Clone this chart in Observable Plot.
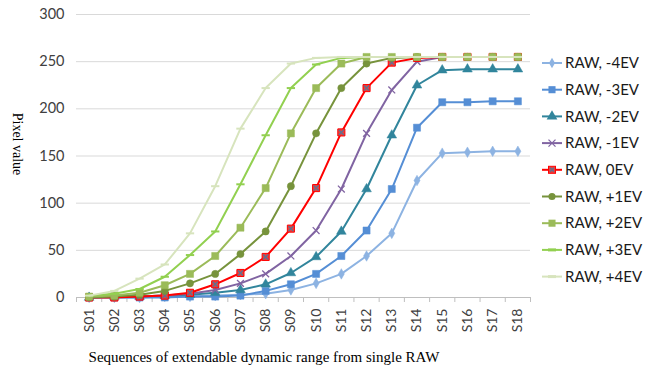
<!DOCTYPE html>
<html>
<head>
<meta charset="utf-8">
<script src="https://cdn.jsdelivr.net/npm/d3@7"></script>
<script src="https://cdn.jsdelivr.net/npm/@observablehq/plot@0.6"></script>
<style>
  html, body { margin: 0; padding: 0; background: #fff; }
  #chart { position: relative; width: 656px; height: 370px; }
</style>
</head>
<body>
<div id="chart"></div>
<script>
// ---- data ----
const categories = ["S01","S02","S03","S04","S05","S06","S07","S08","S09","S10","S11","S12","S13","S14","S15","S16","S17","S18"];
const seriesNames = ["RAW, -4EV","RAW, -3EV","RAW, -2EV","RAW, -1EV","RAW, 0EV","RAW, +1EV","RAW, +2EV","RAW, +3EV","RAW, +4EV"];
const evM4 = [0, 0, 0, 1, 1, 2, 3, 4, 8, 15, 25, 44, 68, 124, 153, 154, 155, 155];
const evM3 = [0, 0, 0, 0, 1, 1, 2, 7, 14, 25, 44, 71, 115, 180, 207, 207, 208, 208];
const evM2 = [0, 1, 1, 2, 3, 5, 8, 14, 26, 43, 70, 115, 172, 225, 241, 242, 242, 242];
const evM1 = [0, 1, 1, 2, 4, 8, 15, 25, 44, 71, 115, 174, 220, 250, 255, 255, 255, 255];
const ev0  = [0, 0, 1, 2, 5, 14, 26, 43, 73, 116, 175, 222, 249, 254, 255, 255, 255, 255];
const evP1 = [0, 1, 3, 7, 15, 25, 46, 70, 118, 174, 222, 248, 254, 255, 255, 255, 255, 255];
const evP2 = [1, 2, 5, 13, 25, 44, 74, 116, 174, 222, 248, 255, 255, 255, 255, 255, 255, 255];
const evP3 = [2, 4, 9, 22, 45, 70, 120, 172, 222, 247, 254, 255, 255, 255, 255, 255, 255, 255];
const evP4 = [2, 7, 20, 35, 68, 118, 179, 222, 248, 254, 255, 255, 255, 255, 255, 255, 255, 255];
const yTicks = [0, 50, 100, 150, 200, 250, 300];

// ---- styles ----
const colors = ["#8DB3E2","#558ED5","#31859C","#8064A2","#FF0000","#77933C","#9BBB59","#92D050","#D7E4BD"];
const dash = { draw(ctx, size) { const w = Math.sqrt(size) * 0.9; ctx.moveTo(-w, 0); ctx.lineTo(w, 0); } };
const symbols = ["diamond","square","triangle","times","square","circle","square",dash,dash];
const allValues = [evM4, evM3, evM2, evM1, ev0, evP1, evP2, evP3, evP4];

const rows = [];
allValues.forEach((vals, s) => vals.forEach((v, i) => rows.push({series: seriesNames[s], idx: i + 1, value: v, s})));
const boundaries = d3.range(categories.length + 1).map(i => i + 0.5);

const marks = [
  Plot.ruleY(yTicks.filter(d => d > 0), {stroke: "#D9D9D9", strokeWidth: 1}),
  Plot.ruleY([0], {stroke: "#BFBFBF", strokeWidth: 1}),
  Plot.axisX({ticks: boundaries, tickSize: 5, tickFormat: () => "", stroke: "#BFBFBF", label: null}),
  Plot.axisX({ticks: d3.range(1, categories.length + 1), tickSize: 0, tickPadding: 11, tickRotate: -90,
    tickFormat: i => categories[i - 1], label: null, fontSize: 14, fill: "#404040"}),
  Plot.axisY({ticks: yTicks, tickSize: 0, tickPadding: 12, label: null, fontSize: 14.5, fill: "#404040"})
];
seriesNames.forEach((name, s) => {
  const data = rows.filter(r => r.s === s);
  marks.push(Plot.line(data, {x: "idx", y: "value", stroke: colors[s], strokeWidth: 2}));
  const sym = symbols[s];
  if (sym === dash) {
    marks.push(Plot.dot(data, {x: "idx", y: "value", symbol: () => dash, r: 2.6, stroke: colors[s], strokeWidth: 2, fill: "none"}));
  } else if (sym === "times") {
    marks.push(Plot.dot(data, {x: "idx", y: "value", symbol: "times", r: 3.2, stroke: colors[s], strokeWidth: 1.3}));
  } else if (s === 4) {
    marks.push(Plot.dot(data, {x: "idx", y: "value", symbol: "square", r: 4, fill: "#E8413E", stroke: "#FF0000", strokeWidth: 1}));
    marks.push(Plot.dot(data, {x: "idx", y: "value", symbol: "times", r: 2.4, stroke: "#5A7394", strokeWidth: 1.3}));
  } else {
    const r = sym === "circle" ? 3.6 : (sym === "triangle" ? 3.6 : (sym === "diamond" ? 3.2 : 4));
    marks.push(Plot.dot(data, {x: "idx", y: "value", symbol: sym, r, fill: colors[s], stroke: colors[s], strokeWidth: 0.5}));
  }
});

const plot = Plot.plot({
  width: 656,
  height: 370,
  marginLeft: 76,
  marginRight: 126,
  marginTop: 14,
  marginBottom: 73,
  style: {fontFamily: "Lato, 'Open Sans', sans-serif", background: "#fff"},
  x: {type: "linear", domain: [0.5, categories.length + 0.5], axis: null},
  y: {domain: [0, 300], axis: null},
  symbol: {type: "identity"},
  marks
});
document.getElementById("chart").appendChild(plot);

// titles
const svg = d3.select(plot);
svg.append("text")
  .attr("transform", "translate(13,144) rotate(90)")
  .attr("text-anchor", "middle")
  .attr("font-family", "'Liberation Serif', 'Times New Roman', serif")
  .attr("font-size", 14).attr("fill", "#000")
  .text("Pixel value");
svg.append("text")
  .attr("x", 264).attr("y", 362)
  .attr("text-anchor", "middle")
  .attr("font-family", "'Liberation Serif', 'Times New Roman', serif")
  .attr("font-size", 15).attr("fill", "#000")
  .text("Sequences of extendable dynamic range from single RAW");

// legend
const lg = svg.append("g").attr("transform", "translate(542,63)");
seriesNames.forEach((name, s) => {
  const g = lg.append("g").attr("transform", `translate(0,${s * 26.7})`);
  g.append("line").attr("x1", 0).attr("x2", 20).attr("y1", 0).attr("y2", 0)
    .attr("stroke", colors[s]).attr("stroke-width", 2);
  const sym = symbols[s];
  const cx = 10;
  if (sym === dash) {
    g.append("line").attr("x1", cx - 4).attr("x2", cx + 4).attr("y1", 0).attr("y2", 0).attr("stroke", colors[s]).attr("stroke-width", 3);
  } else if (sym === "times") {
    g.append("path").attr("transform", `translate(${cx},0)`).attr("d", "M-3.5,-3.5L3.5,3.5M-3.5,3.5L3.5,-3.5").attr("stroke", colors[s]).attr("stroke-width", 1.3).attr("fill", "none");
  } else if (s === 4) {
    g.append("rect").attr("x", cx - 3.5).attr("y", -3.5).attr("width", 7).attr("height", 7).attr("fill", "#E8413E").attr("stroke", "#FF0000");
    g.append("path").attr("transform", `translate(${cx},0)`).attr("d", "M-2,-2L2,2M-2,2L2,-2").attr("stroke", "#5A7394").attr("stroke-width", 1.3).attr("fill", "none");
  } else {
    const d3sym = {diamond: d3.symbolDiamond, square: d3.symbolSquare, triangle: d3.symbolTriangle, circle: d3.symbolCircle}[sym];
    const size = sym === "circle" ? 40 : (sym === "diamond" ? 32 : 50);
    g.append("path").attr("transform", `translate(${cx},0)`).attr("d", d3.symbol(d3sym, size)()).attr("fill", colors[s]);
  }
  g.append("text").attr("x", 23).attr("y", 0).attr("dy", "0.35em")
    .attr("text-anchor", "start")
    .attr("font-family", "Lato, 'Open Sans', sans-serif").attr("font-size", 15).attr("fill", "#1a1a1a")
    .text(name);
});
</script>
</body>
</html>
